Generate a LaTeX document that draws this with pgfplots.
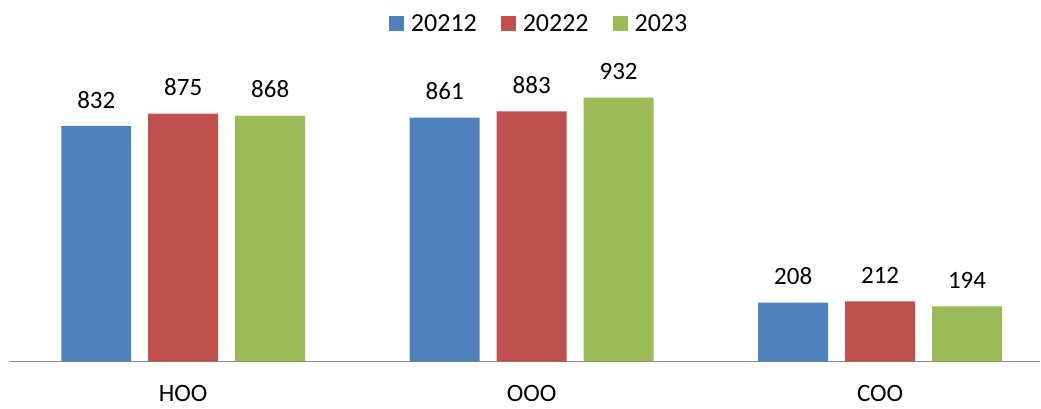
\documentclass[border=0pt]{standalone}
\usepackage{pgfplots}
\pgfplotsset{compat=1.18}
\usepackage{fontspec}
\setmainfont{Carlito}
\definecolor{cblue}{HTML}{4F81BD}
\definecolor{cred}{HTML}{C0504D}
\definecolor{cgreen}{HTML}{9BBB59}
\definecolor{caxis}{HTML}{868686}
\begin{document}
\begin{tikzpicture}
\begin{axis}[
    name=ax,
    scale only axis,
    width=1032pt, height=311.6pt,
    xmin=-0.5, xmax=2.46,
    ymin=0, ymax=1100,
    ybar=17pt,
    bar width=70pt,
    axis x line*=bottom,
    axis y line=none,
    x axis line style={caxis, line width=1.2pt, -},
    xtick=data,
    xticklabels={HOO, OOO, COO},
    major tick length=0pt,
    /pgf/number format/assume math mode=true,
    xticklabel style={font=\fontsize{25}{30}\selectfont, yshift=-20pt},
    nodes near coords,
    every node near coord/.append style={font=\fontsize{25}{30}\selectfont, black, yshift=14pt},
    legend style={at={(0.514,1)}, yshift=26pt, anchor=center, draw=none,
                  font=\fontsize{26}{30}\selectfont, legend columns=3,
                  /tikz/every odd column/.append style={column sep=5pt},
                  /tikz/every even column/.append style={column sep=22pt}},
    legend image code/.code={\fill[#1] (0pt,-7pt) rectangle (15pt,8pt);},
  ]
% 20212
\addplot[fill=cblue, draw=none] coordinates {(0,832) (1,861) (2,208)};
% 20222
\addplot[fill=cred, draw=none] coordinates {(0,875) (1,883) (2,212)};
% 2023
\addplot[fill=cgreen, draw=none] coordinates {(0,868) (1,932) (2,194)};
\legend{20212, 20222, 2023}
\end{axis}
\useasboundingbox ([xshift=-9pt, yshift=-47pt]ax.south west) rectangle ([yshift=50pt]ax.north east);
\end{tikzpicture}
\end{document}
